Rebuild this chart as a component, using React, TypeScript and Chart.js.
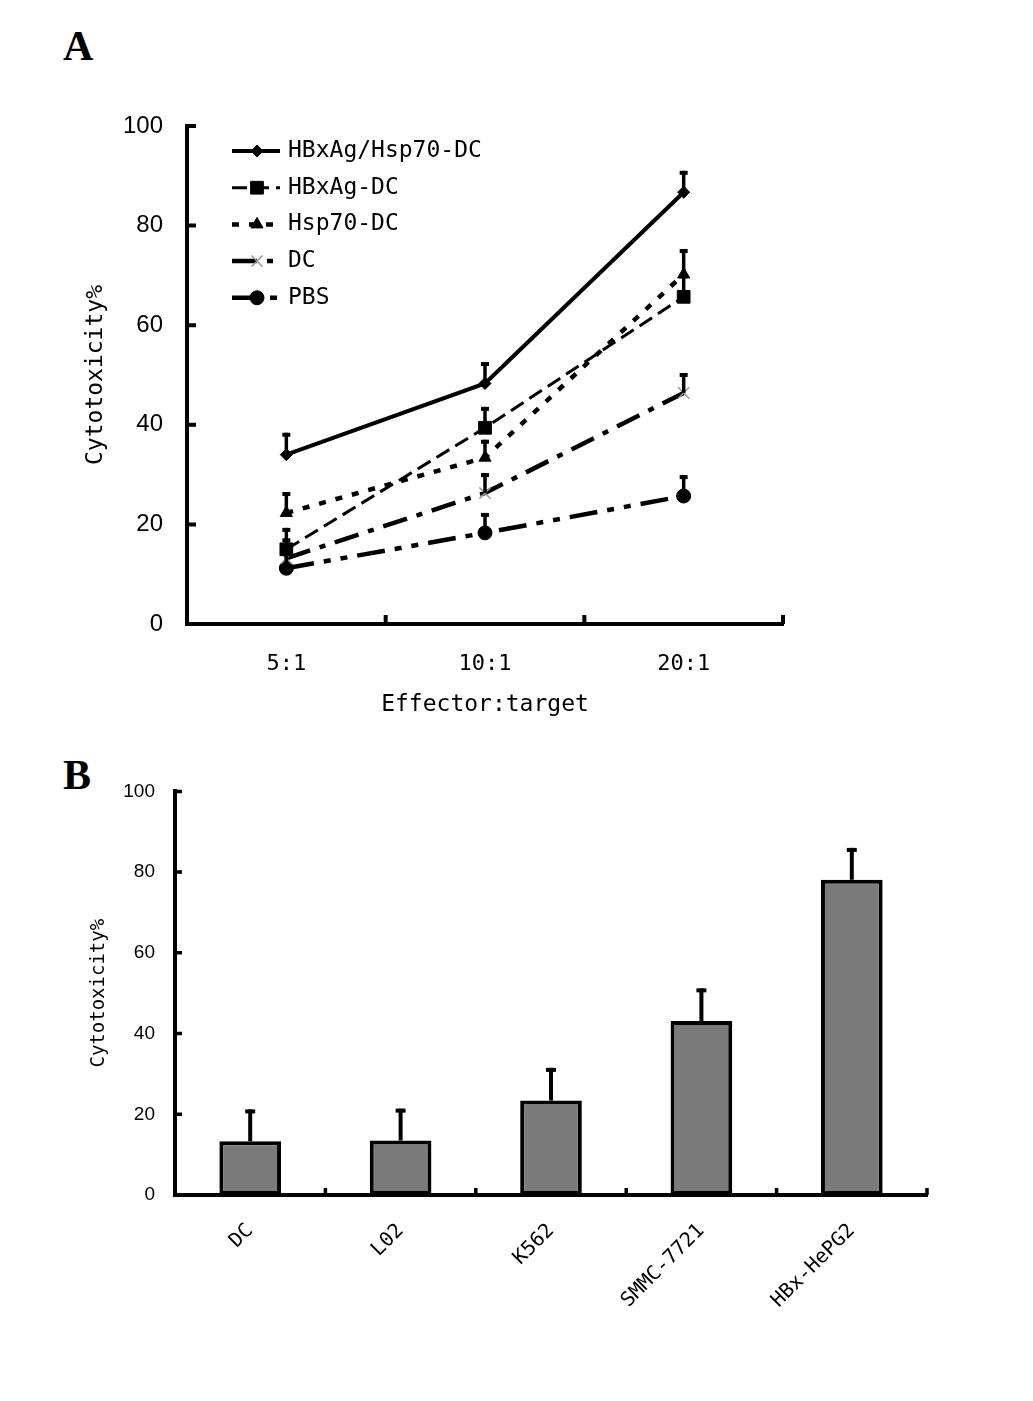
import { useEffect, useRef } from "react"
import { Chart, registerables } from "chart.js"
import { drawPoint } from "chart.js/helpers"

Chart.register(...registerables)

// ---- Panel A: cytotoxicity vs effector:target ratio ----
const ratios = ["5:1", "10:1", "20:1"]
const groupNames = ["HBxAg/Hsp70-DC", "HBxAg-DC", "Hsp70-DC", "DC", "PBS"]
const hbxHspMean = [34.0, 48.3, 86.7]
const hbxHspSd = [4.4, 4.3, 4.3]
const hbxMean = [15.0, 39.4, 65.7]
const hbxSd = [4.3, 4.2, 4.5]
const hspMean = [22.3, 33.4, 70.2]
const hspSd = [4.2, 3.6, 5.1]
const dcMean = [13.2, 26.3, 46.4]
const dcSd = [4.0, 4.0, 4.0]
const pbsMean = [11.2, 18.3, 25.7]
const pbsSd = [3.8, 4.0, 4.2]

// ---- Panel B: cytotoxicity per target cell ----
const targets = ["DC", "L02", "K562", "SMMC-7721", "HBx-HePG2"]
const targetMean = [13.3, 13.5, 23.4, 43.1, 78.1]
const targetSd = [7.9, 7.9, 8.1, 8.1, 7.9]

const MONO = '"DejaVu Sans Mono", monospace'
const SANS = '"Liberation Sans", Arial, sans-serif'

// one-sided (upper) error bars with a cap
const errorBarsPlugin = {
  id: "errorBars",
  afterDatasetsDraw(chart: any, _args: any, opts: any) {
    const { ctx } = chart
    const ys = chart.scales.y
    chart.data.datasets.forEach((ds: any, i: number) => {
      const sd = opts.sds?.[i]
      if (!sd) return
      const meta = chart.getDatasetMeta(i)
      meta.data.forEach((el: any, j: number) => {
        const top = ys.getPixelForValue(ds.data[j] + sd[j])
        ctx.save()
        ctx.setLineDash([])
        ctx.strokeStyle = "#000"
        ctx.lineWidth = opts.lineWidth
        ctx.beginPath()
        ctx.moveTo(el.x, el.y)
        ctx.lineTo(el.x, top)
        ctx.stroke()
        ctx.lineWidth = opts.capThickness
        ctx.beginPath()
        ctx.moveTo(el.x - opts.cap / 2, top + opts.capThickness / 2)
        ctx.lineTo(el.x + opts.cap / 2, top + opts.capThickness / 2)
        ctx.stroke()
        ctx.restore()
      })
    })
  },
}

// tick marks pointing into the plot area
function inwardTicks(len: number, width: number) {
  return {
    id: "inwardTicks",
    afterDraw(chart: any) {
      const { ctx, chartArea } = chart
      const xs = chart.scales.x
      const ys = chart.scales.y
      ctx.save()
      ctx.setLineDash([])
      ctx.strokeStyle = "#000"
      ctx.lineWidth = width
      ctx.beginPath()
      ys.ticks.forEach((t: any) => {
        const py = ys.getPixelForValue(t.value)
        ctx.moveTo(chartArea.left, py)
        ctx.lineTo(chartArea.left + len, py)
      })
      for (let i = 1; i <= xs.ticks.length; i++) {
        const px = xs.getPixelForValue(i - 0.5)
        ctx.moveTo(px, chartArea.bottom)
        ctx.lineTo(px, chartArea.bottom - len)
      }
      ctx.stroke()
      ctx.restore()
    },
  }
}

// legend with line samples, inside the plot
const lineLegendPlugin = {
  id: "lineLegend",
  afterDraw(chart: any) {
    const { ctx, chartArea } = chart
    const x0 = chartArea.left + 45
    let y = chartArea.top + 25
    chart.data.datasets.forEach((ds: any) => {
      ctx.save()
      ctx.strokeStyle = "#000"
      ctx.lineWidth = ds.borderWidth
      ctx.setLineDash(ds.borderDash || [])
      ctx.beginPath()
      ctx.moveTo(x0, y)
      ctx.lineTo(x0 + 48, y)
      ctx.stroke()
      ctx.setLineDash([])
      ctx.fillStyle = ds.pointBackgroundColor
      ctx.strokeStyle = ds.pointBorderColor
      ctx.lineWidth = ds.pointBorderWidth
      drawPoint(ctx, { pointStyle: ds.pointStyle, radius: ds.pointRadius, borderWidth: ds.pointBorderWidth, rotation: 0 }, x0 + 25, y)
      ctx.fillStyle = "#000"
      ctx.font = `23px ${MONO}`
      ctx.textBaseline = "middle"
      ctx.textAlign = "left"
      ctx.fillText(ds.label, x0 + 56, y)
      ctx.restore()
      y += 36.7
    })
  },
}

function LineChartA() {
  const chartRef = useRef<HTMLCanvasElement>(null)

  useEffect(() => {
    if (!chartRef.current) return
    const ctx = chartRef.current.getContext("2d")
    if (!ctx) return

    const base = { borderColor: "#000", pointBackgroundColor: "#000", pointBorderColor: "#000", pointBorderWidth: 1, fill: false, tension: 0 }
    const chart = new Chart(ctx, {
      type: "line",
      data: {
        labels: ratios,
        datasets: [
          { ...base, label: groupNames[0], data: hbxHspMean, borderWidth: 4, borderDash: [], pointStyle: "rectRot", pointRadius: 6 },
          { ...base, label: groupNames[1], data: hbxMean, borderWidth: 3, borderDash: [15, 7], pointStyle: "rect", pointRadius: 9 },
          { ...base, label: groupNames[2], data: hspMean, borderWidth: 4.5, borderDash: [7, 10], pointStyle: "triangle", pointRadius: 7 },
          { ...base, label: groupNames[3], data: dcMean, borderWidth: 4.5, borderDash: [25, 10, 6, 10], pointStyle: "crossRot", pointRadius: 8, pointBorderColor: "#999", pointBorderWidth: 1.5 },
          { ...base, label: groupNames[4], data: pbsMean, borderWidth: 4.5, borderDash: [28, 10, 7, 10, 7, 10], pointStyle: "circle", pointRadius: 7 },
        ] as any,
      },
      options: {
        responsive: true,
        maintainAspectRatio: false,
        animation: false,
        layout: { padding: { top: 46, right: 77, left: 0, bottom: 0 } },
        plugins: {
          legend: { display: false },
          tooltip: { enabled: false },
          errorBars: { sds: [hbxHspSd, hbxSd, hspSd, dcSd, pbsSd], lineWidth: 3.5, cap: 8, capThickness: 4 },
        } as any,
        scales: {
          x: {
            type: "category",
            offset: true,
            grid: { display: false, drawTicks: false },
            border: { display: true, color: "#000", width: 4 },
            ticks: { color: "#000", font: { family: MONO, size: 22 }, padding: 27 },
            title: { display: true, text: "Effector:target", color: "#000", font: { family: MONO, size: 23 }, padding: { top: 0, bottom: 21 } },
            afterFit: (s: any) => { s.height = 116 },
          },
          y: {
            min: 0,
            max: 100,
            grid: { display: false, drawTicks: false },
            border: { display: true, color: "#000", width: 4 },
            ticks: { stepSize: 20, color: "#000", font: { family: SANS, size: 24 }, padding: 24 },
            title: { display: true, text: "Cytotoxicity%", color: "#000", font: { family: MONO, size: 23 }, padding: { top: 82, bottom: 0 } },
            afterFit: (s: any) => { s.width = 187 },
          },
        },
      },
      plugins: [errorBarsPlugin, inwardTicks(9, 4), lineLegendPlugin],
    })

    return () => chart.destroy()
  }, [])

  return (
    <div style={{ position: "absolute", left: 0, top: 80, width: 860, height: 660 }}>
      <canvas ref={chartRef}></canvas>
    </div>
  )
}

function BarChartB() {
  const chartRef = useRef<HTMLCanvasElement>(null)

  useEffect(() => {
    if (!chartRef.current) return
    const ctx = chartRef.current.getContext("2d")
    if (!ctx) return

    const chart = new Chart(ctx, {
      type: "bar",
      data: {
        labels: targets,
        datasets: [
          {
            data: targetMean,
            backgroundColor: "#7a7a7a",
            borderColor: "#000",
            borderWidth: 4,
            borderSkipped: false,
            barPercentage: 0.41,
            categoryPercentage: 1,
          },
        ],
      },
      options: {
        responsive: true,
        maintainAspectRatio: false,
        animation: false,
        layout: { padding: { top: 30, right: 73, left: 0, bottom: 0 } },
        plugins: {
          legend: { display: false },
          tooltip: { enabled: false },
          errorBars: { sds: [targetSd], lineWidth: 4, cap: 10, capThickness: 4 },
        } as any,
        scales: {
          x: {
            grid: { display: false, drawTicks: false },
            border: { display: true, color: "#000", width: 4 },
            ticks: { color: "#000", font: { family: MONO, size: 20 }, padding: 24, minRotation: 45, maxRotation: 45, autoSkip: false },
            afterFit: (s: any) => { s.height = 125 },
          },
          y: {
            min: 0,
            max: 100,
            grid: { display: false, drawTicks: false },
            border: { display: true, color: "#000", width: 4 },
            ticks: { stepSize: 20, color: "#000", font: { family: SANS, size: 19 }, padding: 20 },
            title: { display: true, text: "Cytotoxicity%", color: "#000", font: { family: MONO, size: 19 }, padding: { top: 88, bottom: 0 } },
            afterFit: (s: any) => { s.width = 175 },
          },
        },
      },
      plugins: [errorBarsPlugin, inwardTicks(7, 3.5)],
    })

    return () => chart.destroy()
  }, [])

  return (
    <div style={{ position: "absolute", left: 0, top: 760, width: 1000, height: 560 }}>
      <canvas ref={chartRef}></canvas>
    </div>
  )
}

const letterStyle = {
  position: "absolute" as const,
  left: 63,
  fontFamily: '"Liberation Serif", "Times New Roman", serif',
  fontWeight: "bold" as const,
  fontSize: 42,
  lineHeight: 1,
  color: "#000",
}

export default function App() {
  return (
    <div style={{ position: "absolute", left: 0, top: 0, width: 1033, height: 1401, background: "#fff", overflow: "hidden" }}>
      <div style={{ ...letterStyle, top: 25 }}>A</div>
      <div style={{ ...letterStyle, top: 754 }}>B</div>
      <LineChartA />
      <BarChartB />
    </div>
  )
}
